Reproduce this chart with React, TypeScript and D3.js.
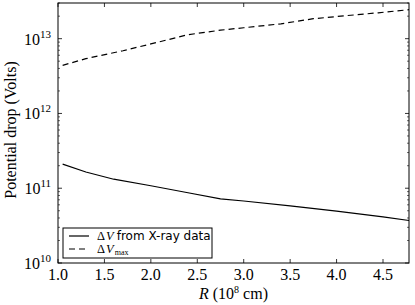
import * as d3 from "d3";

const W = 415;
const H = 305;
const M = { top: 3, right: 6, bottom: 42, left: 58 };

// radius R in units of 1e8 cm
const rObs = [1.05, 1.3, 1.6, 2.0, 2.4, 2.75, 3.0, 3.5, 4.0, 4.5, 4.78];
const dvObs = [2.1e11, 1.65e11, 1.32e11, 1.08e11, 8.7e10, 7.2e10, 6.75e10, 5.8e10, 4.95e10, 4.15e10, 3.7e10];

const rMax = [1.05, 1.3, 1.7, 2.0, 2.4, 2.75, 3.0, 3.4, 3.75, 4.1, 4.45, 4.78];
const dvMax = [4.4e12, 5.4e12, 6.9e12, 8.5e12, 1.13e13, 1.3e13, 1.4e13, 1.58e13, 1.85e13, 2.03e13, 2.22e13, 2.44e13];

const xTicks = [1.0, 1.5, 2.0, 2.5, 3.0, 3.5, 4.0, 4.5];
const yDecades = [10, 11, 12, 13];

const SERIF = "'Liberation Serif', 'DejaVu Serif', serif";
const SANS = "'DejaVu Sans', sans-serif";

export default function App() {
  const iw = W - M.left - M.right;
  const ih = H - M.top - M.bottom;
  const x = d3.scaleLinear().domain([1.0, 4.78]).range([0, iw]);
  const y = d3.scaleLog().domain([1e10, 3e13]).range([ih, 0]);

  const line = d3
    .line<[number, number]>()
    .x((d) => x(d[0]))
    .y((d) => y(d[1]));

  const obsPts = rObs.map((r, i) => [r, dvObs[i]] as [number, number]);
  const maxPts = rMax.map((r, i) => [r, dvMax[i]] as [number, number]);

  // minor ticks for the log axis
  const minor: number[] = [];
  for (let e = 10; e <= 13; e++) {
    for (let k = 2; k <= 9; k++) {
      const v = k * Math.pow(10, e);
      if (v <= 3e13) minor.push(v);
    }
  }

  return (
    <svg width={W} height={H} style={{ position: "absolute", left: 0, top: 0, background: "#fff" }}>
      <g transform={`translate(${M.left},${M.top})`}>
        <path d={line(maxPts) ?? ""} fill="none" stroke="#000" strokeWidth={1.2} strokeDasharray="6,4" />
        <path d={line(obsPts) ?? ""} fill="none" stroke="#000" strokeWidth={1.2} />

        {/* x ticks, bottom and top, inside */}
        {xTicks.map((t) => (
          <g key={t}>
            <line x1={x(t)} x2={x(t)} y1={ih} y2={ih - 4} stroke="#000" strokeWidth={0.8} />
            <line x1={x(t)} x2={x(t)} y1={0} y2={4} stroke="#000" strokeWidth={0.8} />
            <text x={x(t)} y={ih + 17} textAnchor="middle" fontFamily={SERIF} fontSize={16}>
              {t.toFixed(1)}
            </text>
          </g>
        ))}

        {/* y ticks */}
        {yDecades.map((e) => (
          <g key={e}>
            <line x1={0} x2={4} y1={y(Math.pow(10, e))} y2={y(Math.pow(10, e))} stroke="#000" strokeWidth={0.8} />
            <line x1={iw} x2={iw - 4} y1={y(Math.pow(10, e))} y2={y(Math.pow(10, e))} stroke="#000" strokeWidth={0.8} />
            <text x={-7} y={y(Math.pow(10, e)) + 6} textAnchor="end" fontFamily={SERIF} fontSize={16}>
              10<tspan dy={-7} fontSize={11}>{e}</tspan>
            </text>
          </g>
        ))}
        {minor.map((v, i) => (
          <g key={i}>
            <line x1={0} x2={2} y1={y(v)} y2={y(v)} stroke="#000" strokeWidth={0.6} />
            <line x1={iw} x2={iw - 2} y1={y(v)} y2={y(v)} stroke="#000" strokeWidth={0.6} />
          </g>
        ))}

        <rect x={0} y={0} width={iw} height={ih} fill="none" stroke="#000" strokeWidth={1} />

        {/* legend */}
        <g transform="translate(5,225)">
          <rect x={0} y={0} width={149} height={30} fill="#fff" stroke="#000" strokeWidth={1} />
          <line x1={6} x2={26} y1={8} y2={8} stroke="#000" strokeWidth={1.2} />
          <line x1={6} x2={26} y1={21} y2={21} stroke="#000" strokeWidth={1.2} strokeDasharray="6,4" />
          <text x={34} y={12} fontSize={12}>
            <tspan fontFamily={SERIF} fontSize={12.5}>Δ</tspan>
            <tspan fontFamily={SERIF} fontStyle="italic" fontSize={12.5} dx={1}>V</tspan>
            <tspan fontFamily={SANS} dx={3}>from X-ray data</tspan>
          </text>
          <text x={34} y={25} fontSize={12}>
            <tspan fontFamily={SERIF} fontSize={12.5}>Δ</tspan>
            <tspan fontFamily={SERIF} fontStyle="italic" fontSize={12.5} dx={1}>V</tspan>
            <tspan fontFamily={SERIF} fontSize={8} dy={2} dx={1}>max</tspan>
          </text>
        </g>

        <text
          x={iw / 2}
          y={ih + 36}
          textAnchor="middle"
          fontFamily={SERIF}
          fontSize={16}
        >
          <tspan fontStyle="italic">R</tspan> (10<tspan dy={-6} fontSize={10}>8</tspan>
          <tspan dy={6}> cm)</tspan>
        </text>
      </g>
      <text
        transform={`translate(16,${M.top + ih / 2 - 3}) rotate(-90)`}
        textAnchor="middle"
        fontFamily={SERIF}
        fontSize={16}
      >
        Potential drop (Volts)
      </text>
    </svg>
  );
}
